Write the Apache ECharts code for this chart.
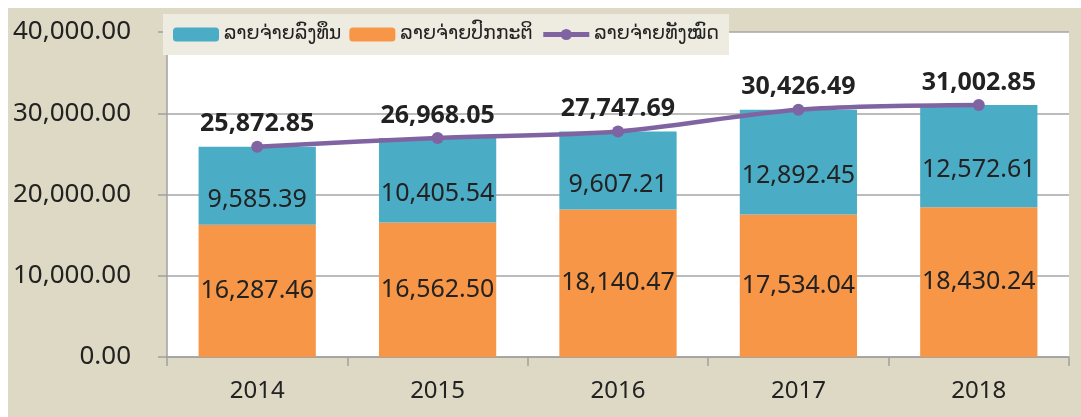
<!DOCTYPE html>
<html><head><meta charset="utf-8">
<script src="https://cdn.jsdelivr.net/npm/echarts@6/dist/echarts.min.js"></script>
<style>html,body{margin:0;padding:0;background:#fff;}#c{position:absolute;left:8px;top:8px;width:1073px;height:409px;}</style>
</head><body><div id="c"></div>
<script>
const categories = ['2014','2015','2016','2017','2018'];
const capitalExp = [9585.39, 10405.54, 9607.21, 12892.45, 12572.61];
const recurrentExp = [16287.46, 16562.50, 18140.47, 17534.04, 18430.24];
const totalExp = [25872.85, 26968.05, 27747.69, 30426.49, 31002.85];
const seriesNames = ['ລາຍຈ່າຍລົງທຶນ', 'ລາຍຈ່າຍປົກກະຕິ', 'ລາຍຈ່າຍທັງໝົດ'];

const fmt = v => Number(v).toLocaleString('en-US', {minimumFractionDigits: 2, maximumFractionDigits: 2});
const numFont = 'Noto Sans';
const chart = echarts.init(document.getElementById('c'));
chart.setOption({
  backgroundColor: '#DDD9C4',
  animation: false,
  grid: {left: 159, right: 12, top: 24, bottom: 60, show: true, backgroundColor: '#FFFFFF', borderWidth: 0},
  legend: {
    data: seriesNames,
    left: 155, top: 6,
    backgroundColor: '#EEECE1',
    padding: [11, 10, 11, 10],
    itemWidth: 46, itemHeight: 14, itemGap: 8,
    lineStyle: {width: 5},
    textStyle: {fontFamily: 'DejaVu Sans', fontSize: 19, color: '#222'}
  },
  xAxis: {
    type: 'category', data: categories,
    axisLine: {lineStyle: {color: '#A0A0A0', width: 1.5}},
    axisTick: {show: true, length: 9, lineStyle: {color: '#A0A0A0', width: 1.5}},
    axisLabel: {fontFamily: numFont, fontSize: 24, color: '#222', margin: 22}
  },
  yAxis: {
    type: 'value', min: 0, max: 40000, interval: 10000,
    axisLine: {show: true, lineStyle: {color: '#A0A0A0', width: 1.5}},
    axisTick: {show: true, length: 9, lineStyle: {color: '#A0A0A0', width: 1.5}},
    splitLine: {lineStyle: {color: '#A6A6A6', width: 1.5}},
    axisLabel: {fontFamily: numFont, fontSize: 26, color: '#222', margin: 36, formatter: v => fmt(v)}
  },
  series: [
    {
      name: seriesNames[1], type: 'bar', stack: 'exp', data: recurrentExp, barWidth: '65%',
      itemStyle: {color: '#F79646'},
      label: {show: true, position: 'inside', fontFamily: numFont, fontSize: 25, color: '#222', formatter: p => fmt(p.value)}
    },
    {
      name: seriesNames[0], type: 'bar', stack: 'exp', data: capitalExp, barWidth: '65%',
      itemStyle: {color: '#4BACC6'},
      label: {show: true, position: 'inside', offset: [0, 14], fontFamily: numFont, fontSize: 25, color: '#222', formatter: p => fmt(p.value)}
    },
    {
      name: seriesNames[2], type: 'line', data: totalExp, smooth: 0.3,
      symbol: 'circle', symbolSize: 12,
      lineStyle: {color: '#8064A2', width: 4.5},
      itemStyle: {color: '#8064A2'},
      label: {show: true, position: 'top', distance: 4, fontFamily: numFont, fontWeight: 'bold', fontSize: 25, color: '#222', formatter: p => fmt(p.value)},
      z: 5
    }
  ]
});
</script></body></html>
